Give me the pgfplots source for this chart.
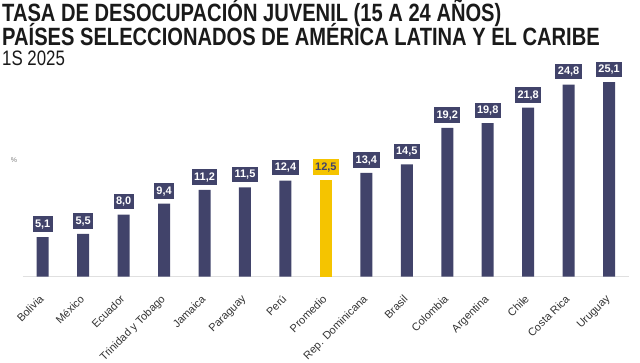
\documentclass[border=0pt]{standalone}
\usepackage{pgfplots}
\pgfplotsset{compat=1.18}
\usepackage{fontspec}
\setmainfont{Liberation Sans}
\newfontfamily\titlefont[FakeStretch=0.805]{Liberation Sans}
\definecolor{navy}{HTML}{41436A}
\definecolor{gold}{HTML}{F5C400}
\definecolor{ticktext}{HTML}{333333}
\definecolor{titletext}{HTML}{1A1A1A}
\begin{document}
\begin{tikzpicture}
\path[use as bounding box] (0bp,0bp) rectangle (640bp,-363bp);
\node[anchor=base west, inner sep=0pt, text=titletext] at (2bp,-21bp) {\titlefont\bfseries\fontsize{25.1}{28}\selectfont TASA DE DESOCUPACIÓN JUVENIL (15 A 24 AÑOS)};
\node[anchor=base west, inner sep=0pt, text=titletext] at (2bp,-45bp) {\titlefont\bfseries\fontsize{25.1}{28}\selectfont PAÍSES SELECCIONADOS DE AMÉRICA LATINA Y EL CARIBE};
\node[anchor=base west, inner sep=0pt, text=titletext] at (2bp,-65bp) {\titlefont\fontsize{21}{24}\selectfont 1S 2025};
\node[text=gray, inner sep=0pt, font=\fontsize{7}{8}\selectfont] at (14bp,-160bp) {\%};
\begin{axis}[
  at={(22.5bp,-276.5bp)}, anchor=south west,
  scale only axis, width=606.8bp, height=220bp,
  xmin=-0.5, xmax=14.5, ymin=0, ymax=28.42,
  axis x line*=bottom, axis y line=none,
  x axis line style={draw=black!12, line width=1bp},
  ytick=\empty,
  xtick={0,...,14},
  xtick style={draw=none},
  xticklabels={Bolivia,México,Ecuador,Trinidad y Tobago,Jamaica,Paraguay,Perú,Promedio,Rep. Dominicana,Brasil,Colombia,Argentina,Chile,Costa Rica,Uruguay},
  xticklabel shift=12.5bp,
  xticklabel style={xshift=-4bp, rotate=45, anchor=north east, inner sep=0.5bp, font=\fontsize{11}{12}\selectfont, text=ticktext},
  ybar, bar width=12bp, bar shift=0pt,
  clip=false,
  nodes near coords={\pgfmathprintnumber[fixed,fixed zerofill,precision=1,use comma,assume math mode=true]{\pgfplotspointmeta}},
  every node near coord/.append style={anchor=south, yshift=5bp, inner xsep=2.5bp, inner ysep=3bp, text height=8bp, text depth=1.5bp, font=\bfseries\fontsize{11}{12}\selectfont},
]
\addplot[draw=none, fill=navy, every node near coord/.append style={fill=navy, text=white}] coordinates {
(0,5.1) (1,5.5) (2,8.0) (3,9.4) (4,11.2) (5,11.5) (6,12.4)
(8,13.4) (9,14.5) (10,19.2) (11,19.8) (12,21.8) (13,24.8) (14,25.1)};
\addplot[draw=none, fill=gold, every node near coord/.append style={fill=gold, text=navy}] coordinates {(7,12.5)};
\end{axis}
\end{tikzpicture}
\end{document}
